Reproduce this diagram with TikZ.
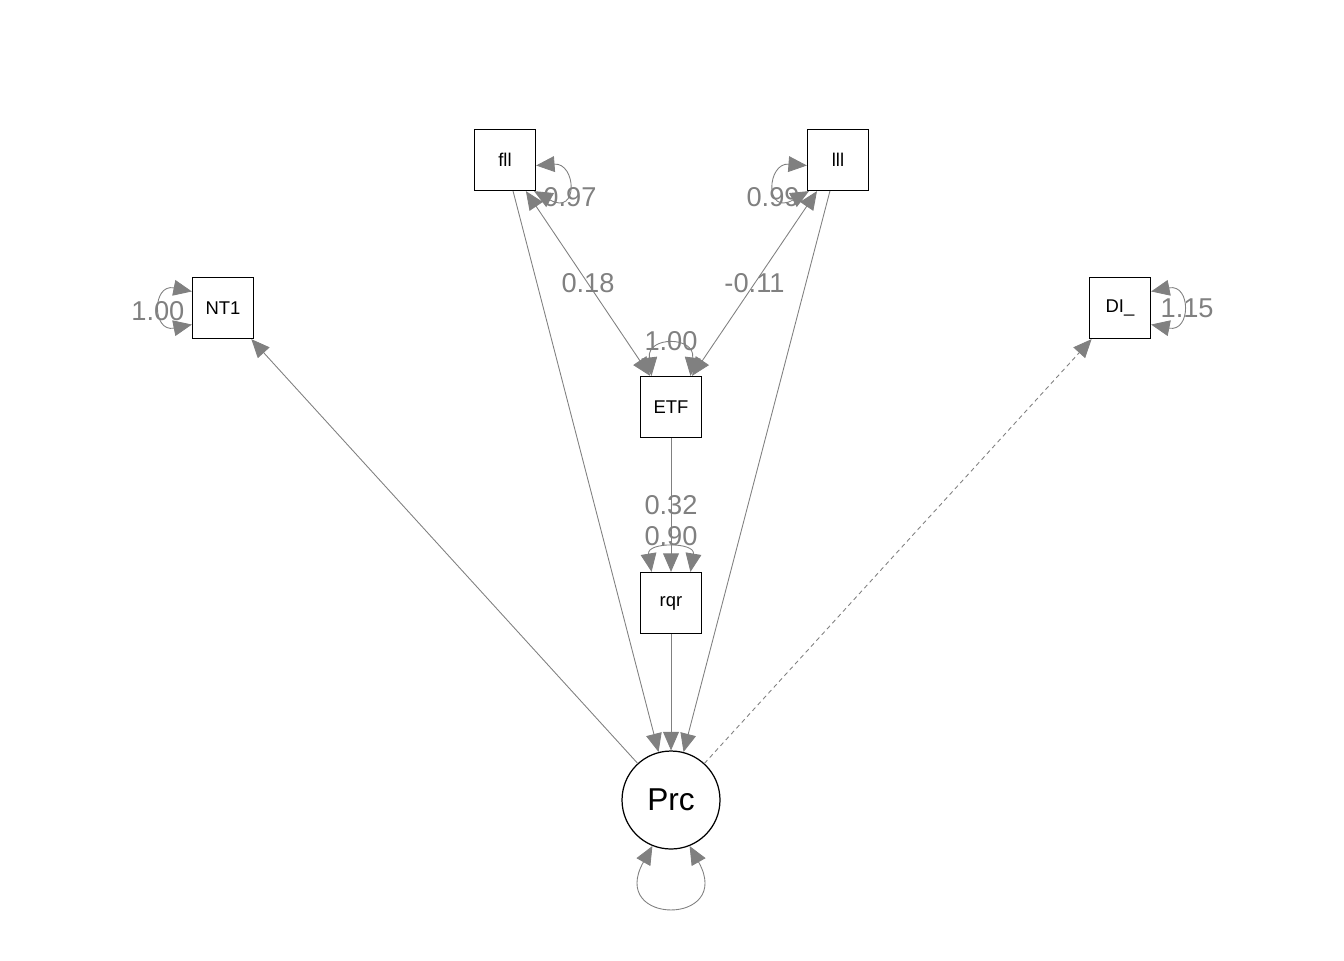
\documentclass[tikz,border=0pt]{standalone}
\usepackage{fontspec}
\setmainfont{Liberation Sans}
\usetikzlibrary{arrows.meta}
\definecolor{linegray}{RGB}{128,128,128}

\begin{document}
\begin{tikzpicture}[->,>={Triangle[length=10.5pt,width=9pt]},x=0.02cm,y=-0.02cm,
                    man node/.style={rectangle,draw,line width=0.7pt,minimum size=1.22cm,inner sep=0pt,font=\fontsize{10.5}{12}\selectfont},
                    lat node/.style={circle,draw,line width=0.7pt,minimum size=1.96cm,inner sep=0pt,font=\fontsize{18}{20}\selectfont},
                    reg/.style={draw=linegray,line width=0.5pt},
                    est/.style={text=linegray,inner sep=0pt,font=\fontsize{15.5}{17}\selectfont}]
  \useasboundingbox (0,0) rectangle (1344,960);

  \node[man node] (fll) at (505,160) {fll};
  \node[man node] (lll) at (838,160) {lll};
  \node[man node] (nt1) at (223,308) {NT1};
  \node[man node] (dil) at (1120,308) {DI\_};
  \node[man node] (etf) at (671,407) {ETF};
  \node[man node] (rqr) at (671,603) {rqr};
  \node[lat node] (prc) at (671,800) {Prc};

  \path
    (fll)
        edge[reg] (prc)
        edge[reg,<->] node[est] {0.18} (etf)
    (lll)
        edge[reg] (prc)
        edge[reg,<->] node[est] {-0.11} (etf)
    (etf)
        edge[reg] node[est] {0.32} (rqr)
    (rqr)
        edge[reg] (prc)
    (prc)
        edge[reg] (nt1)
        edge[reg,dash pattern=on 2.5pt off 2pt] (dil)
    ;

  % residual variances
  \draw[reg,<->] (fll.-10) .. controls +(40,-3) and +(45,25) .. node[est,shift={(3,11)}] {0.97} (fll.-47);
  \draw[reg,<->] (lll.190) .. controls +(-40,-3) and +(-45,25) .. node[est,shift={(-3,11)}] {0.99} (lll.227);
  \draw[reg,<->] (nt1.152) .. controls +(-40,-8) and +(-40,8) .. node[est,shift={(-4,3)}] {1.00} (nt1.208);
  \draw[reg,<->] (dil.28) .. controls +(40,-8) and +(40,8) .. node[est,shift={(6,0)}] {1.15} (dil.-28);
  \draw[reg,<->] (etf.122) .. controls +(-5,-40) and +(5,-40) .. node[est,shift={(0,-5)}] {1.00} (etf.58);
  \draw[reg,<->] (rqr.122) .. controls +(-5,-30) and +(5,-30) .. node[est,shift={(0,-13)}] {0.90} (rqr.58);
  \draw[reg,<->] (prc.-112) .. controls +(-45,80) and +(45,80) .. (prc.-68);
\end{tikzpicture}
\end{document}
